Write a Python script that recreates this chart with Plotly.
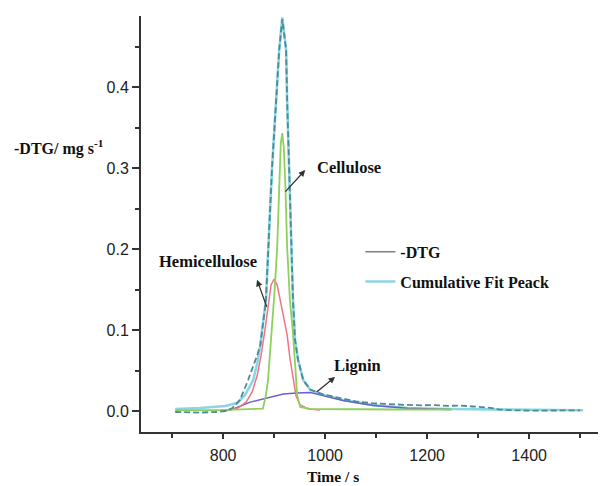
import plotly.graph_objects as go

# ---------------- data ----------------
cum_x = [706, 755, 804, 827.5, 843, 853, 859, 867, 873, 876.5, 880, 884, 890, 896, 904, 910, 916,
         923.5, 925.5, 929.5, 933, 937, 941, 947, 957, 971, 996, 1035, 1094, 1161, 1245, 1324, 1422, 1506]
cum_y = [0.0025, 0.0037, 0.0062, 0.0099, 0.0198, 0.0309, 0.0383, 0.0593, 0.0815, 0.100, 0.1185, 0.137,
         0.220, 0.301, 0.384, 0.446, 0.486,
         0.446, 0.384, 0.301, 0.220, 0.137, 0.0877, 0.063, 0.0383, 0.0259, 0.0198, 0.0136, 0.0074,
         0.0037, 0.0025, 0.0019, 0.0012, 0.0009]

dtg_x = [706, 730, 755, 784, 804, 818, 833, 849, 859, 867, 873, 876.5, 880, 884, 890, 896, 904, 910, 916,
         923.5, 925.5, 929.5, 933, 937, 941, 947, 957, 971, 996, 1035, 1060, 1094, 1120, 1145, 1161,
         1190, 1210, 1240, 1265, 1290, 1310, 1324, 1340, 1360, 1400, 1450, 1500]
dtg_y = [-0.0012, -0.0018, -0.0019, -0.0012, 0.0, 0.0037, 0.0136, 0.0383, 0.0543, 0.0691, 0.0815, 0.100,
         0.1185, 0.137, 0.220, 0.301, 0.384, 0.446, 0.484,
         0.446, 0.384, 0.301, 0.220, 0.137, 0.0877, 0.063, 0.0383, 0.0265, 0.0205, 0.0150, 0.0120,
         0.0095, 0.0085, 0.0078, 0.0075, 0.0070, 0.0074, 0.0064, 0.0068, 0.0056, 0.0052, 0.0040,
         0.0020, 0.0010, 0.0005, 0.0006, 0.0008]

cel_x = [706, 794, 878, 884, 888, 892, 896, 901, 906, 910, 913, 916, 919, 922, 925.5, 931, 936.5,
         942, 945, 951, 971, 1147, 1249]
cel_y = [0.0012, 0.0012, 0.003, 0.0198, 0.038, 0.069, 0.100, 0.149, 0.2025, 0.290, 0.330, 0.343, 0.325,
         0.280, 0.2025, 0.137, 0.100, 0.050, 0.0198, 0.005, 0.0025, 0.0019, 0.0019]

hem_x = [810, 829, 845, 857, 867, 874.5, 882, 888, 894, 900, 906, 912, 919.5, 925.5, 931, 937, 943, 951,
         967, 990]
hem_y = [0.0012, 0.0037, 0.011, 0.0235, 0.0444, 0.069, 0.100, 0.131, 0.1556, 0.163, 0.1556, 0.137, 0.112,
         0.094, 0.0654, 0.0407, 0.0185, 0.0074, 0.0025, 0.0012]

lig_x = [804, 820, 853, 886, 918, 945, 971, 996, 1035, 1094, 1161, 1245]
lig_y = [0.0, 0.0025, 0.011, 0.016, 0.021, 0.0222, 0.0228, 0.019, 0.013, 0.0068, 0.0033, 0.0019]

x_major = [800, 1000, 1200, 1400]
y_major = [0.0, 0.1, 0.2, 0.3, 0.4]

SERIF = "Liberation Serif"
SANS = "Liberation Sans"

fig = go.Figure()
fig.add_trace(go.Scatter(x=cum_x, y=cum_y, mode="lines", name="<b>Cumulative Fit Peack</b>",
                         line=dict(color="#8ad6e6", width=2.6), legendgroup="b", legendrank=2))
fig.add_trace(go.Scatter(x=lig_x, y=lig_y, mode="lines", showlegend=False,
                         line=dict(color="#6a5fd0", width=1.5)))
fig.add_trace(go.Scatter(x=hem_x, y=hem_y, mode="lines", showlegend=False,
                         line=dict(color="#f27382", width=1.5)))
fig.add_trace(go.Scatter(x=cel_x, y=cel_y, mode="lines", showlegend=False,
                         line=dict(color="#8fd05c", width=1.8)))
fig.add_trace(go.Scatter(x=dtg_x, y=dtg_y, mode="lines", showlegend=False,
                         line=dict(color="#4f8a90", width=1.8, dash="6px,3px")))
fig.add_trace(go.Scatter(x=[None], y=[None], mode="lines", name="<b>-DTG</b>",
                         line=dict(color="#808080", width=1.5), legendgroup="a", legendrank=1))

ann_font = dict(family=SERIF, size=16.5, color="#111")
arrow_common = dict(xref="x", yref="y", axref="x", ayref="y", text="", showarrow=True,
                    arrowhead=2, arrowsize=1, arrowwidth=1.3, arrowcolor="#333")
annotations = [
    dict(x=961, y=0.2975, ax=919.5, ay=0.269, **arrow_common),
    dict(x=866.5, y=0.162, ax=886.5, ay=0.127, **arrow_common),
    dict(x=1019.5, y=0.042, ax=980.5, ay=0.022, **arrow_common),
    dict(x=980, y=0.301, xref="x", yref="y", text="<b>Cellulose</b>", showarrow=False,
         xanchor="left", yanchor="middle", font=ann_font),
    dict(x=670, y=0.184, xref="x", yref="y", text="<b>Hemicellulose</b>", showarrow=False,
         xanchor="left", yanchor="middle", font=ann_font),
    dict(x=1013, y=0.0556, xref="x", yref="y", text="<b>Lignin</b>", showarrow=False,
         xanchor="left", yanchor="middle", font=ann_font),
    dict(x=-0.283, y=0.685, xref="paper", yref="paper",
         text="<b>-DTG/ mg s<sup>-1</sup></b>", showarrow=False,
         xanchor="left", yanchor="middle", font=dict(family=SERIF, size=16, color="#111")),
    dict(x=0.42, y=-0.106, xref="paper", yref="paper", text="<b>Time / s</b>", showarrow=False,
         xanchor="center", yanchor="middle", font=dict(family=SERIF, size=15.5, color="#111")),
]

axis_common = dict(showgrid=False, zeroline=False, showline=True, linecolor="#333", linewidth=2,
                   ticks="outside", tickcolor="#333", tickwidth=1.5,
                   tickfont=dict(family=SANS, size=16, color="#222"))

fig.update_layout(
    width=608, height=486,
    margin=dict(l=141, r=10, t=16, b=54),
    paper_bgcolor="white", plot_bgcolor="white",
    xaxis=dict(range=[639, 1535], tickvals=x_major, ticklen=5, ticklabelstandoff=3,
               minor=dict(dtick=100, tick0=700, ticks="outside", ticklen=4, tickcolor="#333"),
               **axis_common),
    yaxis=dict(range=[-0.0259, 0.4877], tickvals=y_major, tickformat=".1f", ticklen=7,
               minor=dict(dtick=0.05, tick0=0, ticks="outside", ticklen=4, tickcolor="#333"),
               **axis_common),
    legend=dict(x=0.48, y=0.474, xanchor="left", yanchor="top", bgcolor="rgba(0,0,0,0)",
                font=dict(family=SERIF, size=16, color="#111"), tracegroupgap=6,
                traceorder="grouped"),
    annotations=annotations,
    showlegend=True,
)

fig.write_html("out.html", config={"displayModeBar": False},
               post_script="document.body.style.margin='0';document.body.style.padding='0';")
